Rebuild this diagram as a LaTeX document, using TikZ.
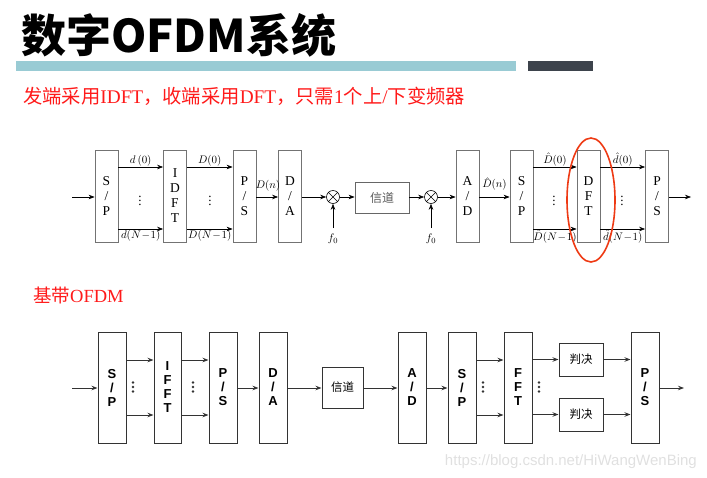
\documentclass[tikz,border=0pt]{standalone}
\usepackage{fontspec}
\setmainfont{Liberation Serif}
\setsansfont{Liberation Sans}
\newfontfamily\cjk{Noto Sans CJK SC}
\usetikzlibrary{arrows.meta,shapes.geometric,calc}
\definecolor{barblue}{HTML}{99CBD4}
\definecolor{bardark}{HTML}{3D434C}
\definecolor{redtxt}{HTML}{FF1A1A}
\definecolor{ellred}{HTML}{EE3A14}
\begin{document}
\begin{tikzpicture}[x=1pt,y=-1pt,
  tb/.style={draw=black!55, line width=0.8pt, minimum width=23pt, minimum height=92pt, inner sep=0pt, align=center, font=\fontsize{13.5}{15}\selectfont},
  bb/.style={draw=black!80, line width=1pt, minimum width=28pt, minimum height=111pt, inner sep=0pt, align=center, font=\sffamily\bfseries\fontsize{13}{14}\selectfont},
  ta/.style={-{Stealth[length=6pt,width=4.5pt]}, line width=0.6pt},
  ba/.style={-{Stealth[length=6pt,width=4.5pt]}, line width=0.9pt, draw=black!80},
  lbl/.style={inner sep=0.5pt, font=\fontsize{11}{12}\selectfont},
  mix/.style={circle, draw, line width=0.6pt, minimum size=13pt, inner sep=0pt},
  dotv/.style={fill=black!80, circle, inner sep=0pt, minimum size=2.6pt}
]
\useasboundingbox (0,0) rectangle (707,477);

% header
\node[anchor=base west, inner sep=0pt, font=\cjk\bfseries\fontsize{45}{45}\selectfont] (title) at (21,52) {数字OFDM系统};
\fill[barblue] (16,61) rectangle (516,71);
\fill[bardark] (528,61) rectangle (593,71);
\node[anchor=base west, inner sep=0pt, text=redtxt, font=\fontsize{19.3}{19.3}\selectfont] (sub) at (23,103)
  {{\cjk 发端采用}IDFT{\cjk ，收端采用}DFT{\cjk ，只需}1{\cjk 个上}/{\cjk 下变频器}};

% ---------------- top diagram ----------------
\coordinate (in1) at (72,197);
\node[tb] (sp1) at (106.5,196) {S\\/\\P};
\node[tb] (idft) at (175,196) {I\\D\\F\\T};
\node[tb] (ps1) at (244.5,196) {P\\/\\S};
\node[tb] (da1) at (290,196) {D\\/\\A};
\node[mix] (m1) at (333,197) {};
\node[draw=black!60, line width=0.8pt, minimum width=54pt, minimum height=31pt, inner sep=0pt, text=black!65, font=\cjk\fontsize{12}{12}\selectfont] (ch1) at (382,197.5) {信道};
\node[mix] (m2) at (431,197) {};
\node[tb] (ad1) at (467.5,196) {A\\/\\D};
\node[tb] (sp4) at (521.5,196) {S\\/\\P};
\node[tb] (dft) at (588.5,196) {D\\F\\T};
\node[tb] (ps4) at (657,196) {P\\/\\S};
\coordinate (out1) at (691,197);

\foreach \m in {m1,m2}{
  \draw[line width=0.6pt] (\m.north west) -- (\m.south east) (\m.north east) -- (\m.south west);
}

\draw[ta] (in1) -- (in1 -| sp1.west);
\draw[ta] ([yshift=29pt]sp1.east) -- ([yshift=29pt]idft.west) node[lbl, midway, above] {$d\,(0)$};
\draw[ta] ([yshift=-33pt]sp1.east) -- ([yshift=-33pt]idft.west) node[lbl, midway, below] {$d(N\!-\!1)$};
\node[font=\fontsize{13}{13}\selectfont] (dv1) at (140,198) {$\vdots$};
\draw[ta] ([yshift=29pt]idft.east) -- ([yshift=29pt]ps1.west) node[lbl, midway, above] {$D(0)$};
\draw[ta] ([yshift=-33pt]idft.east) -- ([yshift=-33pt]ps1.west) node[lbl, midway, below] {$D(N\!-\!1)$};
\node[font=\fontsize{13}{13}\selectfont] (dv2) at (210,198) {$\vdots$};
\draw[ta] (ps1.east |- in1) -- (da1.west |- in1);
\node[lbl] (dn) at (268,186) {$D(n)$};
\draw[ta] (da1.east |- in1) -- (m1.west);
\draw[ta] (m1.east) -- (ch1.west |- m1);
\draw[ta] (ch1.east |- m2) -- (m2.west);
\draw[ta] (m2.east) -- (ad1.west |- m2);
\coordinate (f1s) at (333,228);
\coordinate (f2s) at (431,228);
\node[lbl] (f1) at (333,239) {$f_0$};
\node[lbl] (f2) at (431,239) {$f_0$};
\draw[ta] (f1s) -- (m1.south);
\draw[ta] (f2s) -- (m2.south);
\draw[ta] (ad1.east |- in1) -- (sp4.west |- in1);
\node[lbl] (dhn) at (494.5,184) {$\hat{D}(n)$};
\draw[ta] ([yshift=29pt]sp4.east) -- ([yshift=29pt]dft.west) node[lbl, midway, above] {$\hat{D}(0)$};
\draw[ta] ([yshift=-33pt]sp4.east) -- ([yshift=-33pt]dft.west) node[lbl, midway, below] {$\hat{D}(N\!-\!1)$};
\node[font=\fontsize{13}{13}\selectfont] (dv3) at (554,198) {$\vdots$};
\draw[ta] ([yshift=29pt]dft.east) -- ([yshift=29pt]ps4.west) node[lbl, midway, above] {$\hat{d}(0)$};
\draw[ta] ([yshift=-33pt]dft.east) -- ([yshift=-33pt]ps4.west) node[lbl, midway, below] {$\hat{d}(N\!-\!1)$};
\node[font=\fontsize{13}{13}\selectfont] (dv4) at (622,198) {$\vdots$};
\draw[ta] (ps4.east |- out1) -- (out1);

\node[draw=ellred, line width=1.6pt, ellipse, minimum width=48pt, minimum height=124pt, inner sep=0pt] (ell) at (591,200) {};

% ---------------- bottom diagram ----------------
\node[anchor=base west, inner sep=0pt, text=redtxt, font=\fontsize{18.5}{18.5}\selectfont] (bb) at (33,302) {{\cjk 基带}OFDM};

\coordinate (in2) at (72,388);
\node[bb] (sp2) at (112,387.5) {S\\/\\P};
\node[bb, minimum width=27pt] (ifft) at (167.5,387.5) {I\\F\\F\\T};
\node[bb] (ps2) at (223,387.5) {P\\/\\S};
\node[bb] (da2) at (273,387.5) {D\\/\\A};
\node[draw=black!80, line width=1pt, minimum width=41pt, minimum height=41pt, inner sep=0pt, font=\cjk\fontsize{11.5}{12}\selectfont] (ch2) at (342.5,387.5) {信道};
\node[bb] (ad2) at (412,387.5) {A\\/\\D};
\node[bb] (sp3) at (462,387.5) {S\\/\\P};
\node[bb] (fft) at (518,387.5) {F\\F\\T};
\node[draw=black!80, line width=1pt, minimum width=44pt, minimum height=33pt, inner sep=0pt, font=\cjk\fontsize{11.5}{12}\selectfont] (pj1) at (581,359.5) {判决};
\node[draw=black!80, line width=1pt, minimum width=44pt, minimum height=33pt, inner sep=0pt, font=\cjk\fontsize{11.5}{12}\selectfont] (pj2) at (581,414.5) {判决};
\node[bb] (ps3) at (645,387.5) {P\\/\\S};
\coordinate (out2) at (684,388);

\draw[ba] (in2) -- (in2 -| sp2.west);
\draw[ba] ([yshift=27.5pt]sp2.east) -- ([yshift=27.5pt]ifft.west);
\draw[ba] ([yshift=-27.5pt]sp2.east) -- ([yshift=-27.5pt]ifft.west);
\draw[ba] ([yshift=27.5pt]ifft.east) -- ([yshift=27.5pt]ps2.west);
\draw[ba] ([yshift=-27.5pt]ifft.east) -- ([yshift=-27.5pt]ps2.west);
\draw[ba] (ps2.east |- in2) -- (da2.west |- in2);
\draw[ba] (da2.east |- in2) -- (ch2.west |- in2);
\draw[ba] (ch2.east |- in2) -- (ad2.west |- in2);
\draw[ba] (ad2.east |- in2) -- (sp3.west |- in2);
\draw[ba] ([yshift=27.5pt]sp3.east) -- ([yshift=27.5pt]fft.west);
\draw[ba] ([yshift=-27.5pt]sp3.east) -- ([yshift=-27.5pt]fft.west);
\draw[ba] (fft.east |- pj1) -- (pj1.west);
\draw[ba] (fft.east |- pj2) -- (pj2.west);
\draw[ba] (pj1.east) -- (ps3.west |- pj1);
\draw[ba] (pj2.east) -- (ps3.west |- pj2);
\draw[ba] (ps3.east |- out2) -- (out2);

\foreach \x in {133,193,483,539}{
  \foreach \yy in {382.5,387,391.5}{
    \node[dotv] at (\x,\yy) {};
  }
}

% watermark
\node[anchor=base east, inner sep=0pt, text=black!12, font=\sffamily\fontsize{15}{15}\selectfont] (wm) at (697,465) {https://blog.csdn.net/HiWangWenBing};
\end{tikzpicture}
\end{document}
